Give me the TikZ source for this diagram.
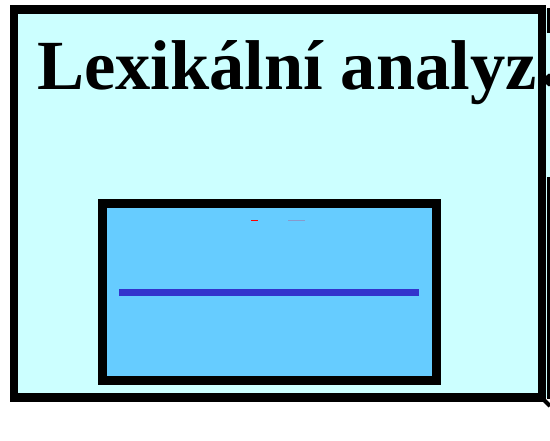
\documentclass[tikz,border=0pt]{standalone}
\usepackage{fontspec}
\setmainfont{Liberation Serif}
\definecolor{outerfill}{HTML}{CCFFFF}
\definecolor{innerfill}{HTML}{66CCFF}
\definecolor{barblue}{HTML}{3333CC}
\definecolor{markgrey}{HTML}{8899CC}
\begin{document}
\begin{tikzpicture}[x=1pt,y=-1pt,
  framebox/.style={line width=8.5pt,draw=black},
  title/.style={font=\fontsize{70.5}{80}\selectfont\bfseries,inner sep=0pt,anchor=base west}]
\useasboundingbox (0,0) rectangle (550,441);
\clip (0,0) rectangle (550,441);
% strip to the right
\fill[outerfill] (541,9) rectangle (550,398);
\fill[black] (547,8) rectangle (550,33);
\fill[black] (549,80) ellipse [x radius=3.5pt, y radius=6.5pt];
\fill[black] (547,177) rectangle (550,399);
\draw[black,line width=4pt] (543,399) -- (550,406);
% outer box
\draw[framebox,fill=outerfill] (14,9.5) rectangle (542,397.5);
\node[title] (t) at (37,90) {Lexikální analyz};
% inner box
\draw[framebox,line width=9pt,fill=innerfill] (102,203.5) rectangle (436.5,380.5);
\coordinate (b1) at (119,292.5);
\coordinate (b2) at (419,292.5);
\draw[barblue,line width=7pt] (b1) -- (b2);
\coordinate (r1) at (251,220.5);
\coordinate (r2) at (258,220.5);
\draw[red,line width=1.5pt] (r1) -- (r2);
\coordinate (g1) at (288,220.5);
\coordinate (g2) at (305,220.5);
\draw[markgrey,line width=1pt] (g1) -- (g2);
\end{tikzpicture}
\end{document}
